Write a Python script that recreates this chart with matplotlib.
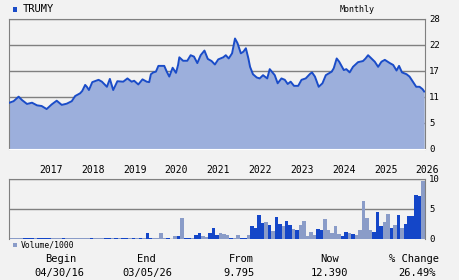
import numpy as np
import pandas as pd
import matplotlib
matplotlib.use("Agg")
import matplotlib.pyplot as plt
from matplotlib.patches import Rectangle
from matplotlib.transforms import blended_transform_factory

# price line (decimal year, price)
price_years = [
    2016.29, 2016.39, 2016.51, 2016.59, 2016.71, 2016.83, 2016.95, 2017.06, 2017.18, 2017.30,
    2017.42, 2017.54, 2017.66, 2017.78, 2017.86, 2017.98, 2018.03, 2018.10, 2018.14, 2018.19,
    2018.27, 2018.42, 2018.50, 2018.62, 2018.69, 2018.77, 2018.87, 2019.01, 2019.11, 2019.21,
    2019.27, 2019.37, 2019.47, 2019.57, 2019.63, 2019.67, 2019.73, 2019.79, 2019.85, 2019.99,
    2020.05, 2020.11, 2020.19, 2020.27, 2020.32, 2020.35, 2020.44, 2020.54, 2020.62, 2020.70,
    2020.78, 2020.86, 2020.95, 2021.03, 2021.12, 2021.20, 2021.28, 2021.40, 2021.46, 2021.53,
    2021.61, 2021.68, 2021.74, 2021.82, 2021.88, 2021.94, 2022.00, 2022.04, 2022.11, 2022.20,
    2022.27, 2022.35, 2022.45, 2022.51, 2022.63, 2022.70, 2022.79, 2022.87, 2022.94, 2023.01,
    2023.09, 2023.19, 2023.27, 2023.37, 2023.47, 2023.52, 2023.59, 2023.68, 2023.77, 2023.85,
    2023.99, 2024.04, 2024.11, 2024.17, 2024.28, 2024.34, 2024.42, 2024.50, 2024.62, 2024.74,
    2024.80, 2024.86, 2024.94, 2025.02, 2025.10, 2025.18, 2025.26, 2025.38, 2025.46, 2025.54,
    2025.60, 2025.67, 2025.78, 2025.85, 2025.93, 2026.01, 2026.09, 2026.16, 2026.20,
]
prices = [
    9.97, 10.3, 11.27, 10.55, 9.7, 9.97, 9.4, 9.26, 8.6, 9.6,
    10.4, 9.5, 9.76, 10.3, 11.4, 12.0, 12.5, 13.8, 13.4, 12.7,
    14.4, 14.9, 14.5, 13.4, 15.1, 12.7, 14.6, 14.5, 15.2, 14.5,
    14.7, 13.9, 15.0, 14.5, 14.4, 16.1, 16.5, 16.65, 17.9, 17.9,
    16.65, 15.6, 17.5, 16.4, 18.1, 19.75, 19.0, 19.0, 20.2, 19.9,
    18.5, 20.2, 21.2, 19.4, 18.95, 18.2, 19.3, 19.75, 20.2, 19.5,
    20.6, 23.8, 22.8, 20.6, 20.95, 21.7, 19.5, 17.7, 16.1, 15.4,
    15.2, 15.9, 15.2, 17.2, 15.9, 14.15, 15.2, 14.9, 14.0, 14.5,
    13.6, 13.6, 14.9, 15.2, 16.15, 16.5, 15.6, 13.4, 14.15, 15.9,
    16.65, 17.4, 19.5, 18.8, 17.0, 17.2, 16.5, 17.7, 18.7, 18.95,
    19.5, 20.2, 19.5, 18.8, 17.7, 18.8, 19.2, 18.5, 18.1, 16.9,
    17.9, 16.5, 16.1, 15.6, 14.5, 13.4, 13.4, 12.9, 12.39,
]

# monthly volume (thousands), May 2016 .. Mar 2026; 1 = up month (dark), 0 = down (light)
volume = [
    0.2, 0.2, 0.2, 0.2, 0.2, 0.2, 0.2, 0.2, 0.2, 0.2, 0.2, 0.2,
    0.2, 0.2, 0.2, 0.2, 0.2, 0.2, 0.2, 0.2, 0.2, 0.2, 0.2, 0.2,
    0.2, 0.2, 0.2, 0.2, 0.2, 0.2, 0.2, 0.2, 0.2, 0.2, 0.2, 0.2,
    0.2, 0.2, 0.2, 0.96, 0.2, 0.1, 0.1, 0.96, 0.1, 0.1, 0.05, 0.45,
    0.45, 3.5, 0.2, 0.2, 0.1, 0.62, 0.96, 0.45, 0.3, 0.96, 1.8, 0.6,
    0.96, 0.8, 0.6, 0.2, 0.2, 0.6, 0.2, 0.2, 0.6, 2.1, 1.8, 4.0,
    2.6, 2.8, 2.3, 1.3, 3.6, 2.5, 2.1, 3.0, 2.3, 1.6, 1.45, 2.3,
    3.0, 0.45, 1.1, 0.6, 1.6, 1.45, 3.3, 1.45, 0.96, 2.1, 0.8, 0.45,
    1.1, 0.96, 0.8, 0.6, 1.45, 6.3, 3.5, 1.45, 1.1, 4.5, 2.1, 2.8,
    4.2, 1.8, 2.3, 4.0, 1.8, 2.5, 3.8, 3.8, 7.3, 7.2, 9.6,
]
vol_up = [
    0, 0, 0, 0, 1, 1, 1, 0, 1, 1, 1, 1,
    0, 0, 0, 1, 0, 0, 0, 0, 0, 0, 0, 1,
    0, 0, 0, 1, 1, 0, 1, 0, 1, 1, 0, 1,
    0, 1, 0, 1, 1, 0, 0, 0, 0, 1, 1, 0,
    1, 0, 1, 1, 0, 1, 1, 0, 0, 1, 1, 1,
    0, 0, 0, 1, 0, 0, 1, 1, 0, 1, 1, 1,
    1, 0, 1, 0, 1, 1, 0, 1, 1, 0, 1, 0,
    0, 0, 0, 0, 1, 1, 0, 0, 0, 0, 0, 1,
    1, 0, 1, 0, 0, 0, 0, 0, 1, 1, 1, 0,
    0, 1, 0, 1, 0, 1, 1, 1, 1, 1, 0,
]

year_labels = [str(y) for y in range(2017, 2027)]
price_ticks = [0, 5.6, 11.2, 16.8, 22.4, 28]
price_tick_labels = ["0", "5", "11", "17", "22", "28"]
vol_ticks = [0, 5, 10]

symbol = "TRUMY"
stats_heads = ["Begin", "End", "From", "Now", "% Change"]
stats_vals = ["04/30/16", "03/05/26", "9.795", "12.390", "26.49%"]

bg = "#f2f2f2"
line_c = "#1a4cc8"
fill_c = "#9cafdc"
dark_c = "#1446c8"
light_c = "#8a9cc8"
grid_c = "#808080"
font = "DejaVu Sans Mono"

W, H = 460, 280
fig = plt.figure(figsize=(4.6, 2.8), dpi=100, facecolor=bg)

def frac(x0, y_top, x1, y_bot):
    return [x0 / W, 1 - y_bot / H, (x1 - x0) / W, (y_bot - y_top) / H]

xlim = (2016.28, 2026.22)

# price panel
ax = fig.add_axes(frac(9, 19, 425, 149))
ax.set_facecolor(bg)
ax.fill_between(price_years, 0, prices, color=fill_c, lw=0, zorder=2)
ax.plot(price_years, prices, color=line_c, lw=1.4, zorder=3)
ax.set_xlim(*xlim)
ax.set_ylim(0, 28)
ax.set_yticks(price_ticks)
ax.set_yticklabels(price_tick_labels)
ax.yaxis.tick_right()
ax.tick_params(axis="y", length=0, pad=3, labelsize=6.5, labelfontfamily=font)
ax.set_xticks([])
ax.grid(axis="y", color=grid_c, lw=1, zorder=1)
for s in ["left", "top", "right"]:
    ax.spines[s].set_color(grid_c)
ax.spines["bottom"].set_color("#ffffff")

# volume panel
vx = pd.date_range("2016-05-01", periods=len(volume), freq="MS")
vx = vx.year + (vx.month - 1) / 12
axv = fig.add_axes(frac(9, 179, 425, 239))
axv.set_facecolor(bg)
colors = [dark_c if u else light_c for u in vol_up]
axv.bar(vx, volume, width=1 / 12, color=colors, lw=0, zorder=2)
axv.set_xlim(*xlim)
axv.set_ylim(0, 10)
axv.set_yticks(vol_ticks)
axv.yaxis.tick_right()
axv.tick_params(axis="y", length=0, pad=3, labelsize=6.5, labelfontfamily=font)
axv.set_xticks([])
axv.grid(axis="y", color=grid_c, lw=1, zorder=1)
for s in ["left", "top", "right"]:
    axv.spines[s].set_color(grid_c)
axv.spines["bottom"].set_visible(False)

# year labels between panels
tr = blended_transform_factory(axv.transData, axv.transAxes)
for i, lab in enumerate(year_labels):
    axv.text(2017 + i, 1.15, lab, transform=tr, ha="left", va="center",
             fontsize=7, family=font, color="black")

# header
fig.add_artist(Rectangle((12.7 / W, 1 - 11.7 / H), 4.6 / W, 5 / H,
                         transform=fig.transFigure, color=line_c, lw=0))
fig.text(22.5 / W, 1 - 9.3 / H, symbol, fontsize=7.5, family=font, va="center", ha="left")
fig.text(357 / W, 1 - 9 / H, "Monthly", fontsize=6, family=font, va="center", ha="center")

# volume legend
fig.add_artist(Rectangle((13 / W, 1 - 246.5 / H), 4 / W, 4 / H,
                         transform=fig.transFigure, color=light_c, lw=0))
fig.text(20.5 / W, 1 - 244.5 / H, "Volume/1000", fontsize=5.8, family=font, va="center", ha="left")

# stats row
head_x = [60.5, 146, 241, 330, 414]
val_x = [59, 147.5, 239.5, 329.5, 417]
for hx, vx_, h, v in zip(head_x, val_x, stats_heads, stats_vals):
    fig.text(hx / W, 1 - 259 / H, h, fontsize=7.5, family=font, ha="center", va="center")
    fig.text(vx_ / W, 1 - 273 / H, v, fontsize=7.5, family=font, ha="center", va="center")

fig.savefig("out.png", dpi=100, facecolor=bg)
